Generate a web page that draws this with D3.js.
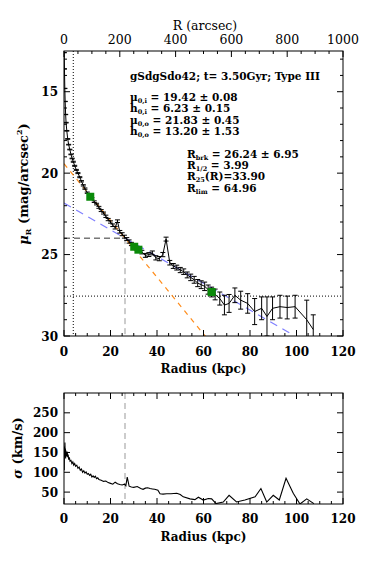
<!DOCTYPE html>
<html><head><meta charset="utf-8">
<script src="https://cdn.jsdelivr.net/npm/d3@7/dist/d3.min.js"></script>
<style>
body{margin:0;background:#fff;}
svg text{font-family:"DejaVu Serif","Liberation Serif",serif;font-weight:bold;fill:#000;}
</style></head>
<body><svg id="c" width="374" height="561"></svg>
<script>
// ---- data ----
const profR = [0.1,0.2,0.35,0.5,0.7,0.9,1.2,1.6,2.0,2.5,3.0,3.5,4.0,4.6,5.3,6.0,6.8,7.5,8.3,9.0,10.0,11.0,12.0,13.0,14.0,15.0,16.0,17.0,18.0,19.0,20.0,21.0,22.0,23.0,24.0,25.0,26.0,27.0,28.0,29.0,30.0,31.0,32.0,33.5,35.0,36.5,38.0,39.5,41.0,42.5,43.9,45.5,47.0,48.5,50.0,51.5,53.0,54.5,56.0,57.5,59.0,60.5,62.0,63.5,65.0,67.0,69.0,71.0,73.5,76.0,79.0,82.0,85.0,87.3,89.7,92.9,96.0,99.4,104.4,107.2];
const profMu = [12.6,13.6,14.8,15.6,16.4,16.9,17.4,17.9,18.25,18.55,18.85,19.1,19.3,19.55,19.8,20.0,20.25,20.5,20.75,20.95,21.2,21.4,21.55,21.75,21.9,22.1,22.3,22.45,22.65,22.85,23.0,23.2,23.35,22.95,23.6,23.75,23.9,24.05,24.2,24.35,24.5,24.6,24.7,24.85,25.05,25.0,24.9,25.2,25.25,25.0,24.05,25.5,25.7,25.8,25.95,26.05,26.25,26.4,26.55,26.75,26.85,26.95,27.15,27.3,27.45,27.7,28.1,28.0,27.5,27.8,28.0,28.5,28.3,28.8,28.3,28.2,28.25,28.2,29.0,29.6];
const profErr = [0.01,0.01,0.01,0.01,0.01,0.02,0.02,0.02,0.02,0.02,0.02,0.02,0.03,0.03,0.03,0.03,0.03,0.04,0.04,0.04,0.04,0.05,0.05,0.05,0.05,0.06,0.06,0.06,0.07,0.07,0.07,0.08,0.08,0.08,0.08,0.09,0.09,0.09,0.1,0.1,0.1,0.1,0.11,0.11,0.12,0.12,0.12,0.13,0.13,0.13,0.12,0.14,0.15,0.15,0.16,0.17,0.18,0.2,0.21,0.22,0.24,0.26,0.28,0.3,0.33,0.4,0.6,0.55,0.45,0.55,0.6,0.8,0.7,1.2,0.7,0.7,0.7,0.7,1.2,0.9];
const markR = [11.3,30.2,32.0,63.5];
const markMu = [21.45,24.52,24.7,27.3];
const sigR = [0.1,0.2,0.3,0.4,0.5,0.6,0.7,0.8,0.9,1.0,1.2,1.4,1.6,1.8,2.0,2.3,2.6,3.0,3.4,3.8,4.2,4.6,5.0,5.5,6.0,6.5,7.0,7.5,8.0,8.5,9.0,9.5,10.0,10.5,11.0,11.5,12.0,12.5,13.0,13.5,14.0,14.5,15.0,16.0,17.0,18.0,19.0,20.0,21.0,22.0,23.0,24.0,25.0,26.0,26.6,27.2,28.0,29.0,30.0,31.5,33.0,34.0,35.0,36.0,37.0,38.0,39.0,40.4,41.3,42.6,44.2,46.0,48.5,50.0,51.3,54.2,56.3,57.8,59.9,62.1,63.5,65.4,68.5,71.0,74.2,77.8,82.2,84.7,87.2,90.0,92.6,95.5,98.6,101.5,104.4,107.5];
const sigV = [105,165,140,175,150,160,135,155,145,150,140,152,138,145,132,138,128,130,122,126,118,122,115,118,110,113,105,108,100,104,98,101,95,97,92,95,88,91,87,90,84,86,82,80,77,78,74,72,70,75,71,69,68,70,66,88,65,63,62,64,59,57,60,61,59,58,57,55,46,45,46,46,47,44,38,33,31,37,30,34,33,21,25,42,25,30,38,59,25,42,30,85,47,20,33,21];
const xTicks = [0,20,40,60,80,100,120];
const arcTicks = [0,200,400,600,800,1000];
const muTicks = [15,20,25,30];
const sigTicks = [50,100,150,200,250];
// fit parameters
const mu0i = 19.42, h0i = 6.23, mu0o = 21.83, h0o = 13.20, Rbrk = 26.24, Rhalf = 3.99, muLim = 27.55;

const svg = d3.select("#c");
const L = 64, Rt = 343;
const x = d3.scaleLinear().domain([0,120]).range([L,Rt]);
const xa = d3.scaleLinear().domain([0,1000]).range([L,Rt]);
const y = d3.scaleLinear().domain([12.5,30]).range([51,336]);
const y2 = d3.scaleLinear().domain([20,300]).range([504,393]);

svg.append("clipPath").attr("id","cp1").append("rect").attr("x",L).attr("y",51).attr("width",Rt-L).attr("height",285);
svg.append("clipPath").attr("id","cp2").append("rect").attr("x",L).attr("y",393).attr("width",Rt-L).attr("height",111);

function hTicks(g, scale, majors, step, dom, ypos, dir, len, mlen){
  d3.range(dom[0], dom[1]+1e-9, step).forEach(v=>{
    const major = majors.some(t=>Math.abs(t-v)<1e-6);
    const p = scale(v);
    g.append("line").attr("x1",p).attr("x2",p).attr("y1",ypos).attr("y2",ypos+dir*(major?len:mlen)).attr("stroke","#000");
  });
}
function vTicks(g, scale, majors, step, dom, xpos, dir, len, mlen){
  d3.range(dom[0], dom[1]+1e-9, step).forEach(v=>{
    const major = majors.some(t=>Math.abs(t-v)<1e-6);
    const p = scale(v);
    g.append("line").attr("y1",p).attr("y2",p).attr("x1",xpos).attr("x2",xpos+dir*(major?len:mlen)).attr("stroke","#000");
  });
}

// ===== top panel =====
const g1 = svg.append("g");
const pc = g1.append("g").attr("clip-path","url(#cp1)");
pc.append("line").attr("x1",x(Rhalf)).attr("x2",x(Rhalf)).attr("y1",51).attr("y2",336).attr("stroke","#000").attr("stroke-dasharray","1,2");
pc.append("line").attr("x1",L).attr("x2",Rt).attr("y1",y(muLim)).attr("y2",y(muLim)).attr("stroke","#000").attr("stroke-dasharray","1,2");
const rEnd = 130;
pc.append("line").attr("x1",x(0)).attr("y1",y(mu0i)).attr("x2",x(rEnd)).attr("y2",y(mu0i+1.0857*rEnd/h0i))
  .attr("stroke","#ff8c1a").attr("stroke-width",1.2).attr("stroke-dasharray","5,5");
pc.append("line").attr("x1",x(0)).attr("y1",y(mu0o)).attr("x2",x(97)).attr("y2",y(mu0o+1.0857*97/h0o))
  .attr("stroke","#8080ff").attr("stroke-width",1.2).attr("stroke-dasharray","8,6");
const muB = mu0i+1.0857*Rbrk/h0i;
pc.append("line").attr("x1",L).attr("x2",x(Rbrk)).attr("y1",y(muB)).attr("y2",y(muB)).attr("stroke","#333").attr("stroke-dasharray","6,4");
pc.append("line").attr("x1",x(Rbrk)).attr("x2",x(Rbrk)).attr("y1",y(muB)).attr("y2",336).attr("stroke","#999").attr("stroke-dasharray","6,4");
const pts = profR.map((r,i)=>({r, m:profMu[i], e:profErr[i]}));
pc.append("path").datum(pts).attr("fill","none").attr("stroke","#000").attr("stroke-width",1)
  .attr("d", d3.line().x(d=>x(d.r)).y(d=>y(d.m)));
const eb = pc.append("g").attr("stroke","#000").attr("stroke-width",1);
pts.forEach(d=>{
  const xp=x(d.r), a=y(d.m-d.e), b=y(d.m+d.e);
  eb.append("line").attr("x1",xp).attr("x2",xp).attr("y1",a).attr("y2",b);
  eb.append("line").attr("x1",xp-2.5).attr("x2",xp+2.5).attr("y1",a).attr("y2",a);
  eb.append("line").attr("x1",xp-2.5).attr("x2",xp+2.5).attr("y1",b).attr("y2",b);
});
markR.forEach((r,i)=>{
  pc.append("rect").attr("x",x(r)-4).attr("y",y(markMu[i])-4).attr("width",8).attr("height",8).attr("fill","#0a8a0a");
});
g1.append("rect").attr("x",L).attr("y",51).attr("width",Rt-L).attr("height",285).attr("fill","none").attr("stroke","#000");
hTicks(g1, x, xTicks, 5, [0,120], 336, -1, 6, 3);
hTicks(g1, xa, arcTicks, 50, [0,1000], 51, 1, 6, 3);
vTicks(g1, y, muTicks, 1, [13,30], L, 1, 6, 3);
vTicks(g1, y, muTicks, 1, [13,30], Rt, -1, 6, 3);
xTicks.forEach(t=>g1.append("text").attr("x",x(t)).attr("y",356).attr("text-anchor","middle").attr("font-size",12).text(t));
arcTicks.forEach(t=>g1.append("text").attr("x",xa(t)).attr("y",44).attr("text-anchor","middle").attr("font-size",12.5).style("font-weight","normal").text(t));
muTicks.forEach(t=>g1.append("text").attr("x",58).attr("y",y(t)+4.5).attr("text-anchor","end").attr("font-size",12).text(t));
g1.append("text").attr("x",x(60)).attr("y",373).attr("text-anchor","middle").attr("font-size",12).text("Radius (kpc)");
g1.append("text").attr("x",205).attr("y",30).attr("text-anchor","middle").attr("font-size",12.5).style("font-weight","normal").text("R (arcsec)");
const yl = g1.append("text").attr("transform","translate(28,184) rotate(-90)").attr("text-anchor","middle").attr("font-size",13);
yl.append("tspan").style("font-style","italic").text("μ");
yl.append("tspan").attr("font-size",8).attr("dy",3).text("R");
yl.append("tspan").attr("dy",-3).text(" (mag/arcsec");
yl.append("tspan").attr("font-size",8).attr("dy",-6).text("2");
yl.append("tspan").attr("dy",6).text(")");

const fs = 10.5;
g1.append("text").attr("x",130).attr("y",80).attr("font-size",fs).text("gSdgSdo42; t= 3.50Gyr; Type III");
function sublabel(xp, yp, main, sub, rest){
  const t = g1.append("text").attr("x",xp).attr("y",yp).attr("font-size",fs);
  t.append("tspan").text(main);
  t.append("tspan").attr("font-size",6.5).attr("dy",2).text(sub);
  t.append("tspan").attr("dy",-2).text(rest);
}
sublabel(130,101,"μ","0,i"," = 19.42 ± 0.08");
sublabel(130,112,"h","0,i"," = 6.23 ± 0.15");
sublabel(130,124,"μ","0,o"," = 21.83 ± 0.45");
sublabel(130,135,"h","0,o"," = 13.20 ± 1.53");
sublabel(187,158,"R","brk"," = 26.24 ± 6.95");
sublabel(187,169,"R","1/2"," = 3.99");
sublabel(187,180,"R","25","(R)=33.90");
sublabel(187,192,"R","lim"," = 64.96");

// ===== bottom panel =====
const g2 = svg.append("g");
const pc2 = g2.append("g").attr("clip-path","url(#cp2)");
pc2.append("line").attr("x1",x(Rbrk)).attr("x2",x(Rbrk)).attr("y1",393).attr("y2",504).attr("stroke","#999").attr("stroke-dasharray","6,4");
pc2.append("path").datum(sigR.map((r,i)=>[r,sigV[i]])).attr("fill","none").attr("stroke","#000").attr("stroke-width",1.1)
  .attr("d", d3.line().x(d=>x(d[0])).y(d=>y2(d[1])));
g2.append("rect").attr("x",L).attr("y",393).attr("width",Rt-L).attr("height",111).attr("fill","none").attr("stroke","#000");
hTicks(g2, x, xTicks, 5, [0,120], 504, -1, 6, 3);
hTicks(g2, x, xTicks, 5, [0,120], 393, 1, 6, 3);
vTicks(g2, y2, sigTicks, 50, [50,250], L, 1, 6, 3);
vTicks(g2, y2, sigTicks, 50, [50,250], Rt, -1, 6, 3);
xTicks.forEach(t=>g2.append("text").attr("x",x(t)).attr("y",523).attr("text-anchor","middle").attr("font-size",12).text(t));
sigTicks.forEach(t=>g2.append("text").attr("x",58).attr("y",y2(t)+4.5).attr("text-anchor","end").attr("font-size",12).text(t));
g2.append("text").attr("x",x(60)).attr("y",541).attr("text-anchor","middle").attr("font-size",12).text("Radius (kpc)");
const yl2 = g2.append("text").attr("transform","translate(22,448) rotate(-90)").attr("text-anchor","middle").attr("font-size",13);
yl2.append("tspan").style("font-style","italic").text("σ");
yl2.append("tspan").text(" (km/s)");
</script></body></html>
